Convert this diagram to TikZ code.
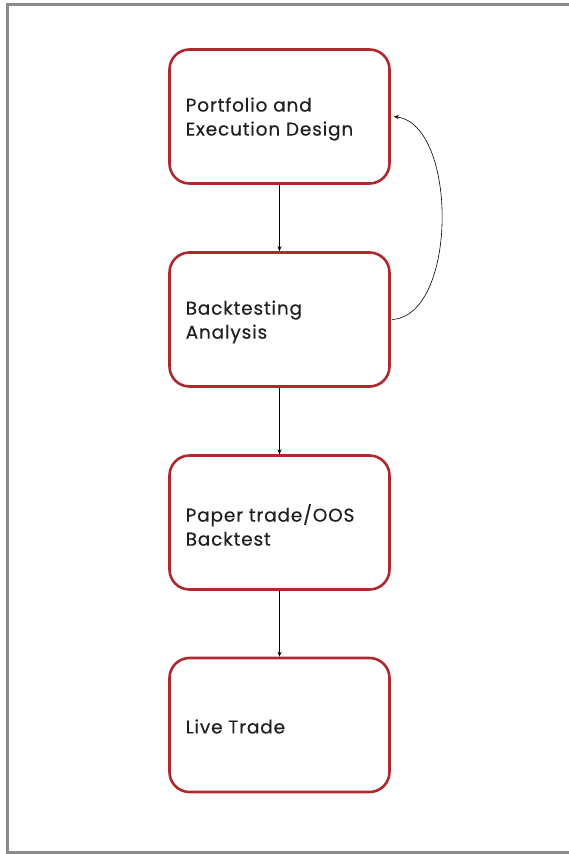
\documentclass[tikz,border=0pt]{standalone}
\usepackage{fontspec}
\setmainfont{Poppins}[LetterSpace=4.5,FakeBold=0.3]
\usetikzlibrary{arrows.meta,calc}
\definecolor{boxred}{HTML}{B0282E}
\definecolor{framegray}{HTML}{8A8A8A}
\tikzset{
  stage/.style={draw=boxred, line width=2.6pt, rounded corners=20pt, fill=white,
    minimum width=220pt, minimum height=134pt, inner sep=0pt},
  stagetext/.style={anchor=west, align=left, inner sep=0pt,
    font=\fontsize{18.5pt}{24pt}\selectfont, text=black!88},
  flow/.style={draw=black, line width=0.6pt, -{Stealth[length=5pt,width=4pt]}}
}
\begin{document}
\begin{tikzpicture}[x=1pt,y=1pt]
  \useasboundingbox (0,0) rectangle (568,-854);
  % page frame, open on the right
  \draw[framegray, line width=3pt] (580,-4) -- (7.5,-4) -- (7.5,-852) -- (580,-852);

  % stages
  \node[stage] (s1) at (279.5,-116.5) {};
  \node[stage] (s2) at (279.5,-319.5) {};
  \node[stage] (s3) at (279.5,-522.5) {};
  \node[stage] (s4) at (279.5,-725) {};

  \node[stagetext] (t1) at (185.5,-119) {Portfolio and\\Execution Design};
  \node[stagetext] (t2) at (185.5,-322) {Backtesting\\Analysis};
  \node[stagetext] (t3) at (185.5,-525) {Paper trade/OOS\\Backtest};
  \node[stagetext] (t4) at (185.5,-726.5) {Live Trade};

  % flow between stages
  \draw[flow] (s1.south) -- (s2.north);
  \draw[flow] (s2.south) -- (s3.north);
  \draw[flow] (s3.south) -- (s4.north);

  % feedback loop from analysis back to design
  \coordinate (fbstart) at ($(s2.east)+(1.5,0)$);
  \coordinate (fbend) at ($(s1.east)+(3,0)$);
  \draw[flow] (fbstart) .. controls (458,-315) and (458,-125) .. (fbend);
\end{tikzpicture}
\end{document}
